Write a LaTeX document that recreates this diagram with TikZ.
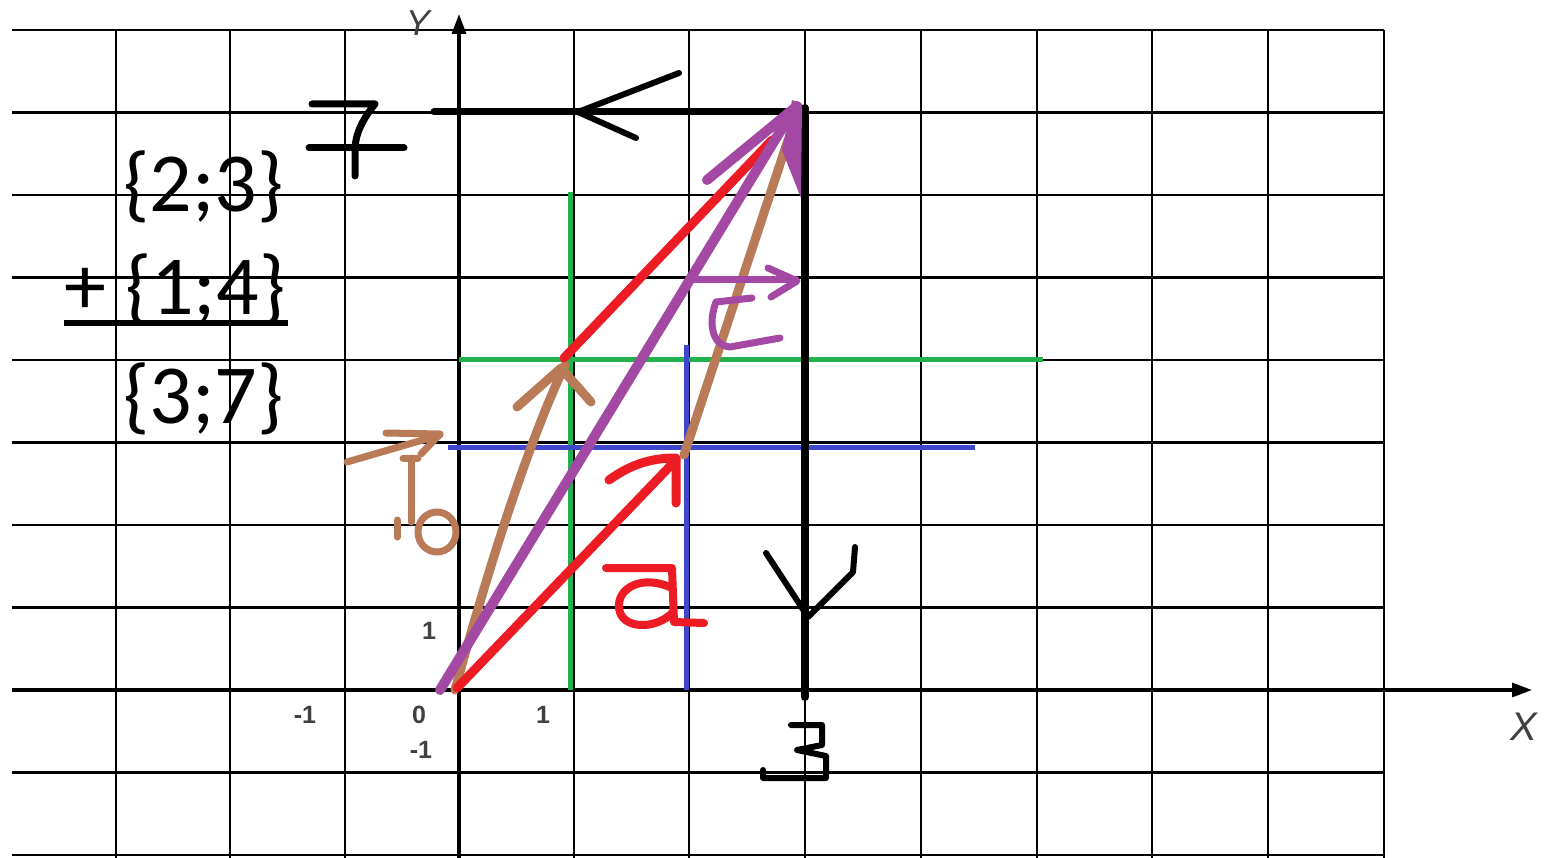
\documentclass[tikz,border=0pt]{standalone}
\usepackage{fontspec}
\setmainfont{Carlito}
\newfontfamily\axfont{Liberation Sans}
\usetikzlibrary{arrows.meta}
\definecolor{pred}{HTML}{ED1C24}
\definecolor{pbrown}{HTML}{B97A57}
\definecolor{ppurple}{HTML}{A349A4}
\definecolor{pgreen}{HTML}{22B14C}
\definecolor{pblue}{HTML}{3F48CC}
\definecolor{axgray}{HTML}{404040}
\tikzset{
  gridline/.style={line width=2.4pt, black},
  axisline/.style={line width=3.2pt, black, -{Triangle[length=20pt,width=14pt]}},
  pen/.style={line cap=round, line join=round},
  redpen/.style={pen, pred, line width=9pt},
  brownpen/.style={pen, pbrown, line width=9pt},
  purplepen/.style={pen, ppurple, line width=10pt},
  greenpen/.style={pgreen, line width=5pt},
  bluepen/.style={pblue, line width=5pt},
  blackpen/.style={pen, black, line width=7pt},
  bigtxt/.style={inner sep=0pt, anchor=base west, font=\fontsize{84}{96}\selectfont},
  smalltxt/.style={inner sep=0pt, text=axgray, font=\axfont\bfseries\fontsize{25}{28}\selectfont},
  axlabel/.style={inner sep=0pt, text=axgray, font=\axfont\itshape\fontsize{40}{44}\selectfont}
}
\begin{document}
\begin{tikzpicture}[x=1pt,y=-1pt]
\useasboundingbox[fill=white] (0,0) rectangle (1555,858);
% grid
\foreach \yy in {30,112.5,195,277.5,360,442.5,525,607.5,772.5,855}
  \draw[gridline] (12,\yy) -- (1384,\yy);
\foreach \xx in {116,230,345,574,689,805,921,1037,1152,1268,1384}
  \draw[gridline] (\xx,30) -- (\xx,858);
% axes
\coordinate (xs) at (12,690);
\coordinate (xe) at (1532,690);
\coordinate (ys) at (459,858);
\coordinate (ye) at (459,14);
\draw[axisline] (xs) -- (xe);
\draw[axisline] (ys) -- (ye);
\node[axlabel] (xl) at (1524,727) {X};
\node[axlabel, font=\axfont\itshape\fontsize{36}{40}\selectfont] (yl) at (418,23) {Y};
% axis numbers
\node[smalltxt] (n1y) at (429,631) {1};
\node[smalltxt] (nm1x) at (305,715) {-1};
\node[smalltxt] (n0) at (419,715) {0};
\node[smalltxt] (n1x) at (543,715) {1};
\node[smalltxt] (nm1y) at (421,750) {-1};
% green and blue construction lines
\draw[greenpen] (570,192) -- (570,690);
\draw[greenpen] (459,360) -- (1043,360);
\draw[bluepen] (686,345) -- (686,690);
\draw[bluepen] (448,447) -- (975,447);
% black projections
\coordinate (P) at (805,112);
\coordinate (L7) at (434,112);
\coordinate (B3) at (805,697);
\draw[blackpen] (P) -- (L7);
\draw[blackpen, line width=8pt] (805,108) -- (B3);
\draw[blackpen, line width=6pt] (679,73) -- (578,112) -- (636,138);
\draw[blackpen, line width=6pt] (766,553) -- (808,617) -- (853,572) -- (855,547);
% hand-drawn 7
\draw[blackpen] (312,104) -- (375,104) .. controls (362,120) and (355,135) .. (355,150) -- (355,176);
\draw[blackpen] (309,148) -- (404,148);
% hand-drawn 3
\draw[blackpen, line width=6pt] (791,725) -- (822,725) -- (822,745) -- (797,750) -- (826,756) -- (826,778) -- (763,778) -- (763,770);
% vector b (brown)
\draw[brownpen] (455,690) .. controls (485,580) and (525,450) .. (565,365);
\draw[brownpen] (517,407) -- (561,368) -- (591,402);
\draw[brownpen] (684,455) -- (788,140);
% vector a (red)
\draw[redpen] (457,688) -- (676,460);
\draw[redpen] (609,480) .. controls (630,465) and (650,458) .. (676,458) -- (676,503);
\draw[redpen] (564,358) -- (772,140);
% vector c (purple)
\draw[purplepen] (440,690) -- (792,112);
\draw[purplepen] (797,106) -- (707,180);
\fill[ppurple] (792,100) -- (802,104) -- (801,198) -- (782,150) -- cycle;
% label b
\draw[brownpen, line width=7pt] (347,462) -- (440,435);
\draw[brownpen, line width=7pt] (386,433) -- (440,434) -- (421,454);
\draw[brownpen, line width=7pt] (403,458) -- (418,458);
\draw[brownpen, line width=7pt] (411,458) -- (411,522);
\draw[brownpen, line width=7pt] (397,520) -- (397,537);
\draw[brownpen, line width=7pt] (437,532) ellipse (19 and 20);
% label a
\draw[redpen, line width=8pt] (606,568) -- (672,568) -- (674,622) -- (704,623);
\draw[redpen, line width=8pt] (672,588) .. controls (642,574) and (617,588) .. (619,608) .. controls (621,630) and (657,630) .. (673,612);
% label c
\draw[purplepen, line width=7pt] (694,280) -- (796,280);
\draw[purplepen, line width=7pt] (768,268) -- (797,281) -- (771,297);
\draw[purplepen, line width=7pt] (752,298) -- (716,302) .. controls (709,320) and (710,345) .. (730,347) -- (780,338);
% text
\node[bigtxt] (t1) at (123,212) {\{2;3\}};
\node[bigtxt] (t2) at (64,315) {+ \{1;4\}};
\node[bigtxt] (t3) at (123,423) {\{3;7\}};
\coordinate (ul) at (64,323);
\coordinate (ur) at (288,323);
\draw[line width=6pt] (ul) -- (ur);
\end{tikzpicture}
\end{document}
